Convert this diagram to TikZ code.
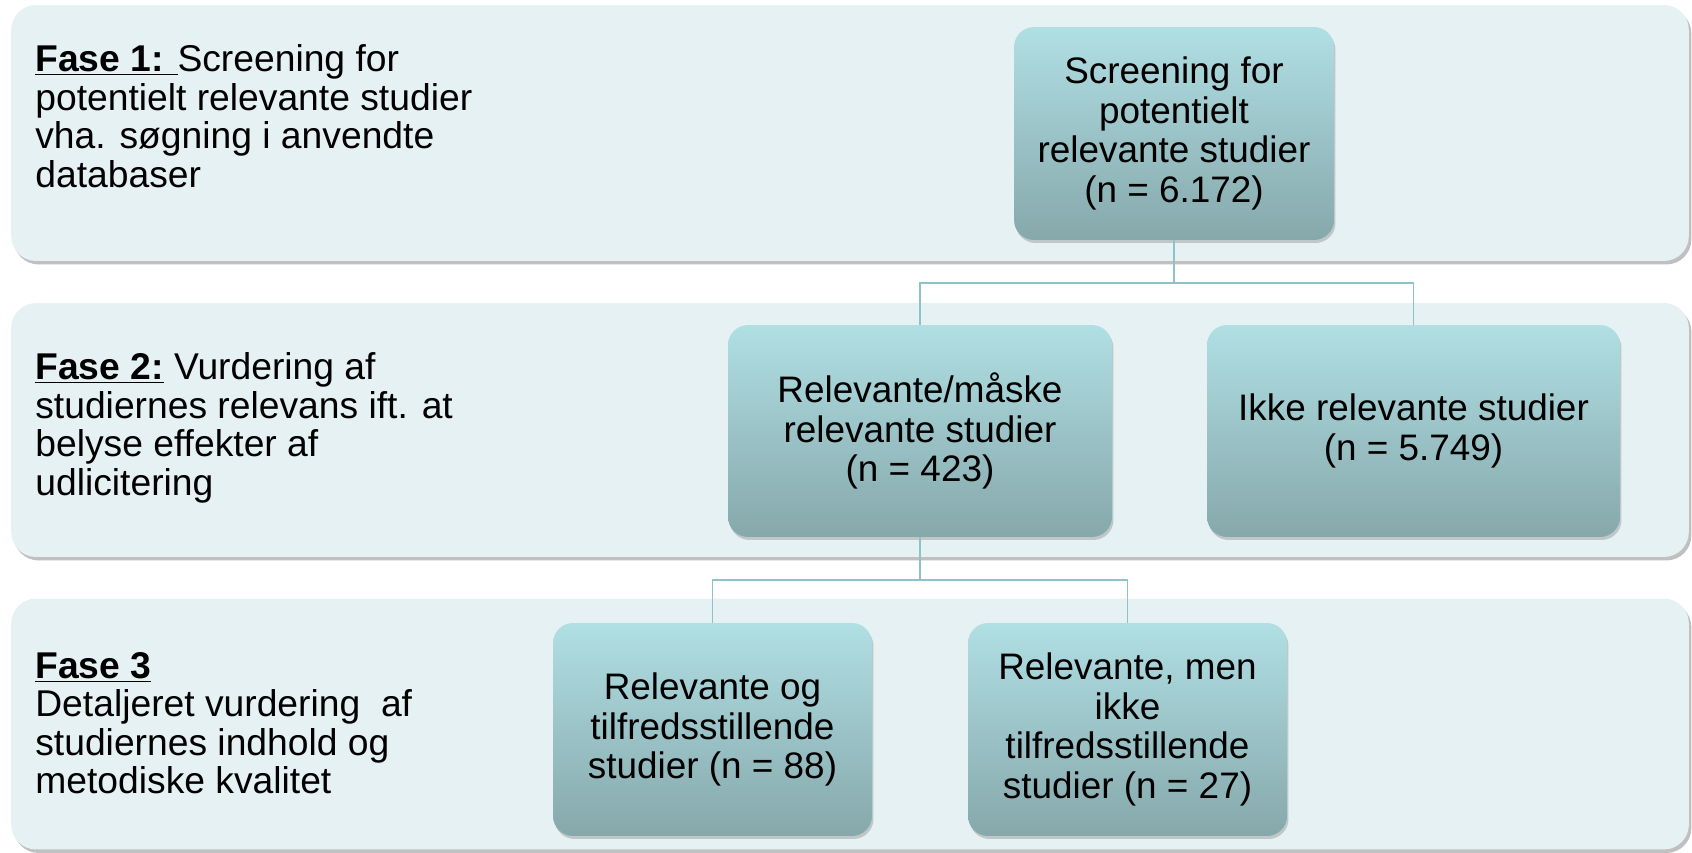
\documentclass[tikz,border=0pt]{standalone}
\usepackage{fontspec}
\setmainfont{Liberation Sans}
\usetikzlibrary{shadows}

\definecolor{panelbg}{HTML}{E6F1F4}
\definecolor{boxtop}{HTML}{B0DFE4}
\definecolor{boxbot}{HTML}{86A8AB}
\definecolor{linkcol}{HTML}{8EC2C7}

\newcommand{\fasehead}[1]{\underline{\textbf{#1}}}

\tikzset{
  panel/.style={fill=panelbg, rounded corners=0.5cm, minimum width=33.56cm,
    drop shadow={shadow xshift=0.05cm, shadow yshift=-0.07cm, opacity=0.45, fill=black!55}},
  stagebox/.style={rounded corners=0.4cm, top color=boxtop, bottom color=boxbot,
    align=center, inner sep=0pt, font=\fontsize{21}{22.6}\selectfont,
    drop shadow={shadow xshift=0.03cm, shadow yshift=-0.06cm, opacity=0.3, fill=black!60}},
  phasetext/.style={anchor=west, align=left, inner sep=0pt,
    font=\fontsize{21.2}{21.9}\selectfont},
  link/.style={draw=linkcol, line width=1.1pt}
}

\begin{document}
\begin{tikzpicture}[x=0.02cm, y=-0.02cm]
  \useasboundingbox (0,0) rectangle (1692,852);

  % the three phases
  \node[panel, minimum height=5.12cm] (fase1) at (850,133) {};
  \node[panel, minimum height=5.08cm] (fase2) at (850,430) {};
  \node[panel, minimum height=5.02cm] (fase3) at (850,724) {};

  \node[phasetext] (txt1) at (35,116) {\fasehead{Fase 1: }Screening for\\
    potentielt relevante studier\\ vha. søgning i anvendte\\ databaser};
  \node[phasetext] (txt2) at (35,428) {\fasehead{Fase 2:} Vurdering af\\
    studiernes relevans ift. at\\ belyse effekter af\\ udlicitering};
  \node[phasetext] (txt3) at (35,723) {\fasehead{Fase 3}\\
    Detaljeret vurdering\ \ af\\ studiernes indhold og\\ metodiske kvalitet};

  % boxes
  \node[stagebox, minimum width=6.4cm, minimum height=4.26cm] (scr) at (1174,133.5)
    {Screening for\\ potentielt\\ relevante studier\\ (n = 6.172)};
  \node[stagebox, minimum width=7.68cm, minimum height=4.24cm] (rel) at (920,431)
    {Relevante/måske\\ relevante studier\\ (n = 423)};
  \node[stagebox, minimum width=8.26cm, minimum height=4.24cm] (ikke) at (1413.5,431)
    {Ikke relevante studier\\ (n = 5.749)};
  \node[stagebox, minimum width=6.38cm, minimum height=4.26cm] (tilf) at (712.5,729.5)
    {Relevante og\\ tilfredsstillende\\ studier (n = 88)};
  \node[stagebox, minimum width=6.38cm, minimum height=4.26cm] (utilf) at (1127.5,729.5)
    {Relevante, men\\ ikke\\ tilfredsstillende\\ studier (n = 27)};

  % connectors
  \coordinate (j1) at (1174,283);
  \coordinate (j2) at (920,580);
  \draw[link] (scr.south) -- (j1) -| (rel.north);
  \draw[link] (j1) -| (ikke.north);
  \draw[link] (rel.south) -- (j2) -| (tilf.north);
  \draw[link] (j2) -| (utilf.north);
\end{tikzpicture}
\end{document}
